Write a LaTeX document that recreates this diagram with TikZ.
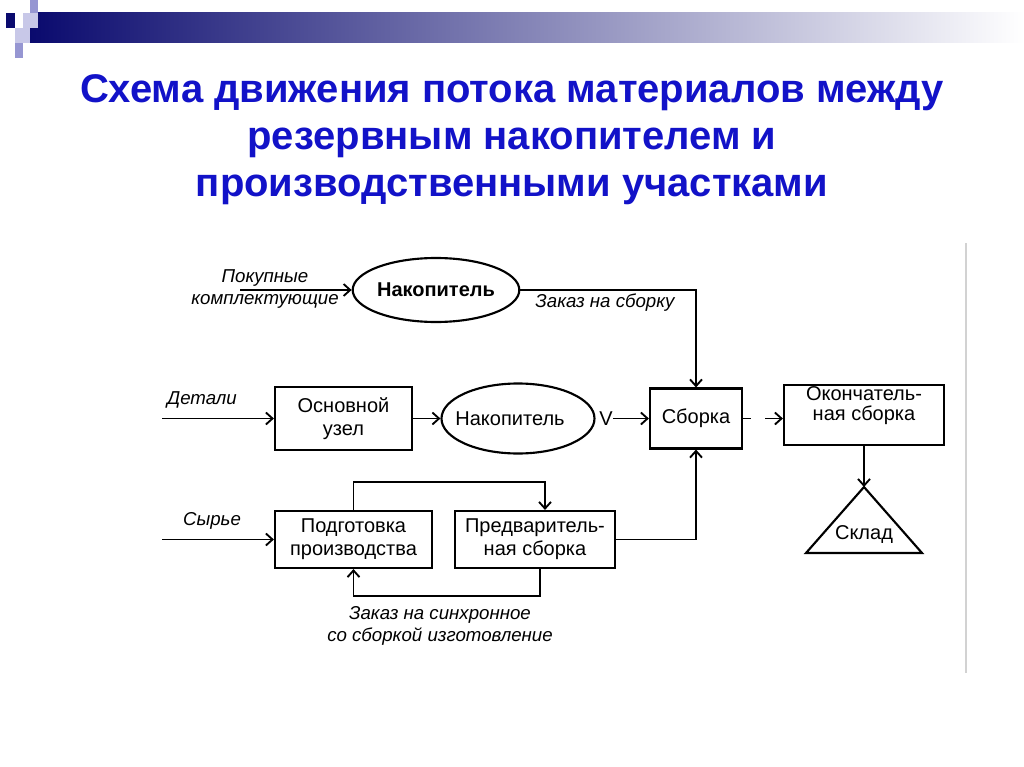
\documentclass[tikz,border=0pt]{standalone}
\usepackage{fontspec}
\setmainfont{Liberation Sans}
\usetikzlibrary{shapes.geometric,arrows.meta,calc}
\definecolor{titleblue}{RGB}{18,18,200}
\definecolor{navy}{RGB}{10,10,110}
\definecolor{lav}{RGB}{200,200,232}
\definecolor{midlav}{RGB}{150,150,210}
\newlength\pu
\setlength\pu{0.75pt}
\begin{document}
\begin{tikzpicture}[x=0.75pt,y=-0.75pt,
  line/.style={line width=1.4pt},
  arr/.style={line width=1.4pt,-{Straight Barb[length=5pt,width=9pt,line width=1.4pt]}},
  box/.style={draw,line width=1.6pt,rectangle,inner sep=0pt,align=center,font=\fontsize{15}{17}\selectfont},
  ell/.style={draw,ellipse,line width=1.6pt,inner sep=0pt,align=center,font=\fontsize{15}{17}\selectfont},
  lbl/.style={font=\itshape\fontsize{14}{17}\selectfont,align=center,inner sep=0pt},
  txt/.style={font=\fontsize{15}{17}\selectfont,align=center,inner sep=0pt},
  titletext/.style={font=\bfseries\fontsize{30}{35.25}\selectfont,text=titleblue,align=center}
]
\useasboundingbox (0,0) rectangle (1024,767);
% header decoration
\shade[left color=navy,right color=white] (30,13) rectangle (1024,43);
\fill[navy] (6,13) rectangle (15,28);
\fill[lav] (23,13) rectangle (38,28);
\fill[midlav] (30,0) rectangle (38,13);
\fill[lav] (15,28) rectangle (30,43);
\fill[midlav] (15,43) rectangle (23,58);
% right separator
\draw[gray!35,line width=2pt] (966,243) -- (966,673);
% title
\node[titletext] (title) at (512,140) {Схема движения потока материалов между\\резервным накопителем и\\производственными участками};
% nodes
\node[ell,minimum width=156\pu,minimum height=64\pu,font=\bfseries\fontsize{15}{17}\selectfont] (acc1) at (436,290) {Накопитель};
\node[box,minimum width=137\pu,minimum height=63\pu] (base) at (343.5,418.5) {Основной\\узел};
\node[ell,minimum width=153\pu,minimum height=70\pu] (acc2) at (518,418.5) {};
\node[txt] (acc2t) at (510,418.5) {Накопитель};
\node[txt] (v) at (606,418.5) {V};
\node[box,minimum width=92\pu,minimum height=60\pu] (asm) at (696,418.5) {Сборка};
\node[box,minimum width=160\pu,minimum height=60\pu] (fin) at (864,415) {};
\node[txt,font=\fontsize{15}{15}\selectfont] (fint) at (864,406) {Окончатель-\\ная сборка};
\coordinate (skl) at (864,487);
\draw[line width=1.6pt] (skl) -- (922,553) -- (806,553) -- cycle;
\node[txt] (sklt) at (864,535) {Склад};
\node[box,minimum width=157\pu,minimum height=57\pu] (prep) at (353.5,539.5) {Подготовка\\производства};
\node[box,minimum width=160\pu,minimum height=57\pu] (pre) at (535,539.5) {Предваритель-\\ная сборка};
% inputs
\coordinate (in1) at (240,290);
\coordinate (in2) at (162,418.5);
\coordinate (in3) at (162,539.5);
\node[lbl] (l1a) at (265,278) {Покупные};
\node[lbl] (l1b) at (265,301) {комплектующие};
\node[lbl] (l2) at (202,400) {Детали};
\node[lbl] (l3) at (212,521) {Сырье};
\node[lbl] (l4) at (605,303) {Заказ на сборку};
\node[lbl] (l5) at (440,626) {Заказ на синхронное\\со сборкой изготовление};
% connectors
\draw[arr] (in1) -- (acc1.west);
\draw[arr] (in2) -- (base.west);
\draw[arr] (in3) -- (prep.west);
\draw[arr] (acc1.east) -| (asm.north);
\draw[arr] (base.east) -- (acc2.west);
\draw[arr] (v.east) -- (asm.west);
\draw[arr,dash pattern=on 8\pu off 14\pu on 30\pu] (asm.east) -- (asm.east -| fin.west);
\draw[arr] (fin.south) -- (skl);
\draw[arr] (prep.north) -- ++(0,-28) -| ($(pre.north)+(10,0)$);
\draw[arr] ($(pre.south)+(5,0)$) -- ++(0,27) -| (prep.south);
\draw[arr] (pre.east) -| (asm.south);
\end{tikzpicture}
\end{document}
